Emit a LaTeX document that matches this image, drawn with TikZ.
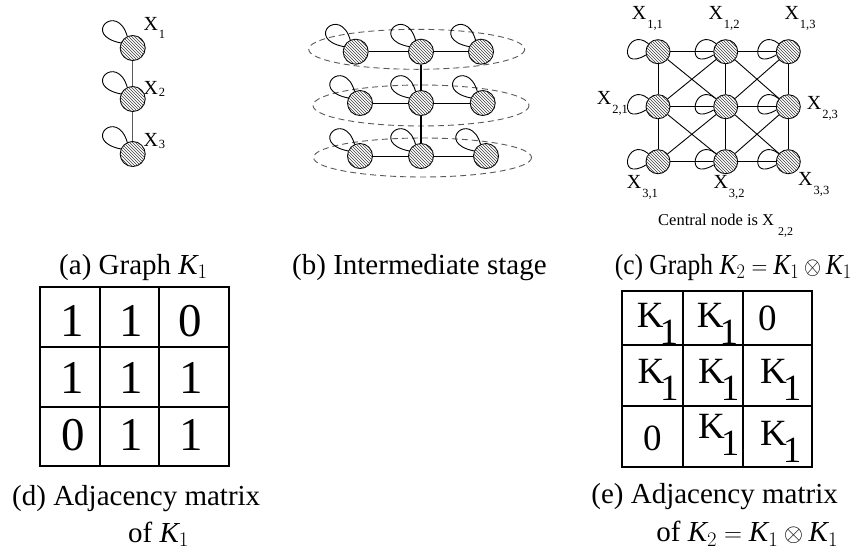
\documentclass[tikz,border=0pt]{standalone}
\usepackage{fontspec}
\setmainfont{Liberation Serif}
\usetikzlibrary{patterns}

\newcommand{\KK}{\mbox{\itshape K}}
\newcommand{\xsub}[2]{X\kern1pt\raisebox{#2}{\fontsize{12.5}{12.5}\selectfont #1}}
\newcommand{\kone}{K\kern-4pt\raisebox{-17pt}{1}}

\tikzset{
  vertex/.style={circle, draw, line width=0.9pt, minimum size=25pt, inner sep=0pt,
    fill=white, postaction={pattern=north west lines, pattern color=black!75}},
  smallvertex/.style={vertex, minimum size=24pt},
  selfloop/.style={to path={.. controls +(-40,-8) and +(-10,-35) .. (\tikztotarget)}},
  sideloop/.style={to path={.. controls +(-22,-18) and +(-30,18) .. (\tikztotarget)}},
  ring/.style={draw=black!65, line width=0.9pt, dash pattern=on 6pt off 4pt},
  thinedge/.style={line width=0.9pt},
  greyedge/.style={line width=0.9pt, draw=black!65},
  fatedge/.style={line width=2.6pt},
  xlab/.style={inner sep=0pt, anchor=base west, font=\fontsize{20}{20}\selectfont},
  capt/.style={inner sep=0pt, font=\fontsize{29}{34}\selectfont},
  grid/.style={line width=1.8pt},
  digit/.style={inner sep=0pt, font=\fontsize{47}{47}\selectfont},
  kcell/.style={inner sep=0pt, anchor=base west, font=\fontsize{37}{37}\selectfont}
}

\begin{document}
\begin{tikzpicture}[x=1pt,y=-1pt]
  \useasboundingbox (0,0) rectangle (855,550);

  % (a) graphe K1
  \node[vertex] (a1) at (132.7,48) {};
  \node[vertex] (a2) at (132.7,99) {};
  \node[vertex] (a3) at (132.7,154) {};
  \draw[greyedge] (a1) -- (a2);
  \draw[greyedge] (a2) -- (a3);
  \draw[thinedge] (a1.157) to[selfloop] (a1.115);
  \draw[thinedge] (a2.157) to[selfloop] (a2.115);
  \draw[thinedge] (a3.157) to[selfloop] (a3.115);
  \node[xlab] (la1) at (143.3,30.7) {\xsub{1}{-8pt}};
  \node[xlab] (la2) at (143.3,94) {\xsub{2}{-2pt}};
  \node[xlab] (la3) at (143.3,146.7) {\xsub{3}{-2pt}};

  % (b) etape intermediaire : les trois copies
  \draw[ring] (416.7,49.3) ellipse [x radius=108, y radius=20];
  \draw[ring] (421,105.5) ellipse [x radius=108, y radius=20.5];
  \draw[ring] (422.5,157.5) ellipse [x radius=109, y radius=19.5];

  \node[vertex] (b11) at (355.7,51.7) {};
  \node[vertex] (b12) at (421,51.7) {};
  \node[vertex] (b13) at (481,51.7) {};
  \node[vertex] (b21) at (360,103) {};
  \node[vertex] (b22) at (421,103) {};
  \node[vertex] (b23) at (482.7,103) {};
  \node[vertex] (b31) at (360,156) {};
  \node[vertex] (b32) at (421,156) {};
  \node[vertex] (b33) at (486,156) {};

  \draw[thinedge] (b11) -- (b12) (b12) -- (b13);
  \draw[thinedge] (b21) -- (b22) (b22) -- (b23);
  \draw[thinedge] (b31) -- (b32) (b32) -- (b33);
  \draw[fatedge] (b12) -- (b22);
  \draw[fatedge] (b22) -- (b32);

  \draw[thinedge] (b11.157) to[selfloop] (b11.115);
  \draw[thinedge] (b12.157) to[selfloop] (b12.115);
  \draw[thinedge] (b13.157) to[selfloop] (b13.115);
  \draw[thinedge] (b21.157) to[selfloop] (b21.115);
  \draw[thinedge] (b22.157) to[selfloop] (b22.115);
  \draw[thinedge] (b23.157) to[selfloop] (b23.115);
  \draw[thinedge] (b31.157) to[selfloop] (b31.115);
  \draw[thinedge] (b32.157) to[selfloop] (b32.115);
  \draw[thinedge] (b33.157) to[selfloop] (b33.115);

  % (c) graphe K2 = K1 x K1
  \node[smallvertex] (c11) at (658,51.7) {};
  \node[smallvertex] (c12) at (725.7,51.7) {};
  \node[smallvertex] (c13) at (788.3,51.7) {};
  \node[smallvertex] (c21) at (658,106.7) {};
  \node[smallvertex] (c22) at (725.7,106.7) {};
  \node[smallvertex] (c23) at (788.3,106.7) {};
  \node[smallvertex] (c31) at (658,161.7) {};
  \node[smallvertex] (c32) at (725.7,161.7) {};
  \node[smallvertex] (c33) at (788.3,161.7) {};

  % lignes et colonnes
  \draw[thinedge] (c11) -- (c12) (c12) -- (c13);
  \draw[thinedge] (c21) -- (c22) (c22) -- (c23);
  \draw[thinedge] (c31) -- (c32) (c32) -- (c33);
  \draw[thinedge] (c11) -- (c21) (c21) -- (c31);
  \draw[thinedge] (c12) -- (c22) (c22) -- (c32);
  \draw[thinedge] (c13) -- (c23) (c23) -- (c33);
  % diagonales
  \draw[thinedge] (c11) -- (c22) (c12) -- (c21);
  \draw[thinedge] (c12) -- (c23) (c13) -- (c22);
  \draw[thinedge] (c21) -- (c32) (c22) -- (c31);
  \draw[thinedge] (c22) -- (c33) (c23) -- (c32);

  \draw[thinedge] (c11.140) to[sideloop] (c11.195);
  \draw[thinedge] (c12.140) to[sideloop] (c12.195);
  \draw[thinedge] (c13.140) to[sideloop] (c13.195);
  \draw[thinedge] (c21.140) to[sideloop] (c21.195);
  \draw[thinedge] (c22.140) to[sideloop] (c22.195);
  \draw[thinedge] (c23.140) to[sideloop] (c23.195);
  \draw[thinedge] (c31.140) to[sideloop] (c31.195);
  \draw[thinedge] (c32.140) to[sideloop] (c32.195);
  \draw[thinedge] (c33.140) to[sideloop] (c33.195);

  \node[xlab] (lc11) at (631.7,19.3) {\xsub{1,1}{-9pt}};
  \node[xlab] (lc12) at (708.3,19.3) {\xsub{1,2}{-9pt}};
  \node[xlab] (lc13) at (784.3,19.3) {\xsub{1,3}{-9pt}};
  \node[xlab] (lc21) at (596.7,104.3) {\xsub{2,1}{-9pt}};
  \node[xlab] (lc23) at (806.7,109.3) {\xsub{2,3}{-9pt}};
  \node[xlab] (lc31) at (626.7,188.3) {\xsub{3,1}{-9pt}};
  \node[xlab] (lc32) at (713.3,188.3) {\xsub{3,2}{-9pt}};
  \node[xlab] (lc33) at (798,185) {\xsub{3,3}{-9pt}};
  \node[xlab, font=\fontsize{16.5}{18}\selectfont] (central) at (658,225)
    {Central node is X\kern4pt\raisebox{-10pt}{\fontsize{12}{12}\selectfont 2,2}};

  % legendes du haut
  \node[capt, anchor=base] (capa) at (133.5,274) {(a) Graph $\KK_1$};
  \node[capt, anchor=base west] (capb) at (292,274) {(b) Intermediate stage};
  \node[capt, anchor=base east] (capc) at (852,274)
    {\scalebox{0.88}[1]{(c) Graph $\KK_2=\KK_1\otimes \KK_1$}};

  % (d) matrice de K1
  \draw[grid] (40,287) rectangle (229,466);
  \draw[grid] (100,287) -- (100,466);
  \draw[grid] (159,287) -- (159,466);
  \draw[grid] (40,347) -- (229,347);
  \draw[grid] (40,407) -- (229,407);
  \node[digit] (d11) at (72,320.8) {1};
  \node[digit] (d12) at (131.7,320.8) {1};
  \node[digit] (d13) at (190,320.8) {0};
  \node[digit] (d21) at (72,378) {1};
  \node[digit] (d22) at (131.7,378) {1};
  \node[digit] (d23) at (191.5,378) {1};
  \node[digit] (d31) at (73,435) {0};
  \node[digit] (d32) at (131.7,435) {1};
  \node[digit] (d33) at (191.5,435) {1};
  \node[capt, anchor=base west] (capd) at (12,505) {(d) Adjacency matrix};
  \node[capt, anchor=base west] (capd2) at (128,542) {of $\KK_1$};

  % (e) matrice de K2
  \draw[grid] (621.7,291) rectangle (812.3,466.7);
  \draw[grid] (682.7,291) -- (682.7,466.7);
  \draw[grid] (743.3,291) -- (743.3,466.7);
  \draw[grid] (621.7,345) -- (812.3,345);
  \draw[grid] (621.7,405.7) -- (812.3,405.7);
  \node[kcell] (e11) at (636.7,327.3) {\kone};
  \node[kcell] (e12) at (696.7,327.3) {\kone};
  \node[kcell] (e13) at (758,330) {0};
  \node[kcell] (e21) at (637.3,383) {\kone};
  \node[kcell] (e22) at (698,383) {\kone};
  \node[kcell] (e23) at (760,383) {\kone};
  \node[kcell] (e31) at (643,450) {0};
  \node[kcell] (e32) at (698,438) {\kone};
  \node[kcell] (e33) at (760,445) {\kone};
  \node[capt, anchor=base east] (cape) at (838,503) {(e) Adjacency matrix};
  \node[capt, anchor=base east] (cape2) at (838.3,541.7) {of $\KK_2=\KK_1\otimes \KK_1$};
\end{tikzpicture}
\end{document}
